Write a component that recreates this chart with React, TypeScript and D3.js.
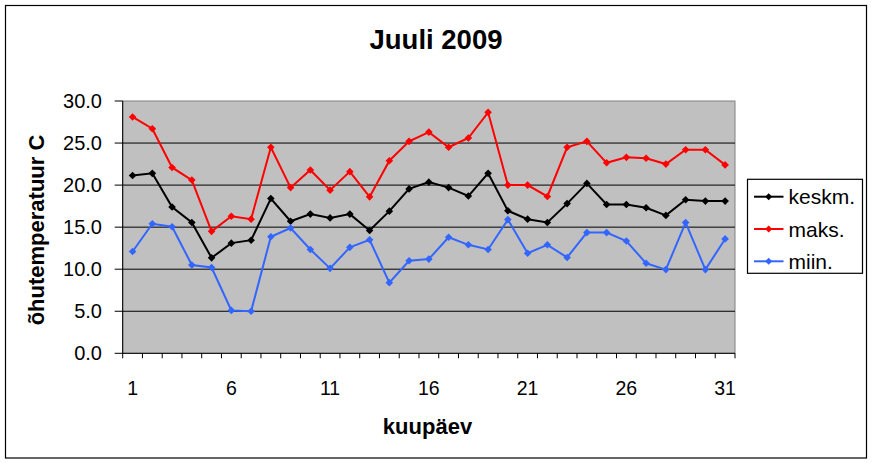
import React from "react";
import * as d3 from "d3";

const days: number[] = Array.from({ length: 31 }, (_, i) => i + 1);
const keskm: number[] = [21.15, 21.4, 17.4, 15.55, 11.35, 13.1, 13.45, 18.4, 15.7, 16.55, 16.1, 16.55, 14.6, 16.9, 19.55, 20.35, 19.7, 18.7, 21.4, 16.95, 15.95, 15.55, 17.8, 20.2, 17.7, 17.7, 17.3, 16.4, 18.25, 18.1, 18.1];
const maks: number[] = [28.1, 26.7, 22.1, 20.6, 14.5, 16.3, 15.95, 24.5, 19.7, 21.8, 19.4, 21.6, 18.6, 22.9, 25.2, 26.3, 24.5, 25.6, 28.65, 20.0, 20.0, 18.65, 24.5, 25.2, 22.65, 23.3, 23.2, 22.5, 24.2, 24.2, 22.4];
const miin: number[] = [12.1, 15.4, 15.05, 10.5, 10.2, 5.1, 5.0, 13.85, 14.9, 12.35, 10.1, 12.6, 13.5, 8.4, 11.0, 11.2, 13.8, 12.9, 12.35, 15.9, 11.9, 12.9, 11.4, 14.35, 14.35, 13.35, 10.7, 9.95, 15.55, 9.95, 13.6];
const yTicks: number[] = [0, 5, 10, 15, 20, 25, 30];
const xLabels: number[] = [1, 6, 11, 16, 21, 26, 31];
const seriesNames: string[] = ["keskm.", "maks.", "miin."];
const seriesColors: string[] = ["#000000", "#FF0000", "#3366FF"];
const seriesData: number[][] = [keskm, maks, miin];

const FONT = "'Liberation Sans', Arial, sans-serif";

export default function App() {
  const W = 874, H = 464;
  const L = 122.7, R = 735, T = 101, B = 353.3;
  const x = d3.scaleBand<number>().domain(days).range([L, R]).paddingInner(0).paddingOuter(0);
  const y = d3.scaleLinear().domain([0, 30]).range([B, T]);
  const cx = (d: number) => (x(d) as number) + x.bandwidth() / 2;
  const line = d3.line<number>().x((_, i) => cx(days[i])).y((v) => y(v));
  const diamond = (px: number, py: number, s: number) =>
    `M${px},${py - s}L${px + s},${py}L${px},${py + s}L${px - s},${py}Z`;
  const boundaries = days.map((d) => x(d) as number).concat([R]);

  const legendX = 747.5, legendY = 179.3, legendW = 115, legendH = 94;
  const itemY = [196.7, 229, 261.3];

  return (
    <svg width={W} height={H} style={{ position: "absolute", left: 0, top: 0, background: "#fff" }} fontFamily={FONT}>
      <rect x={0} y={0} width={W} height={H} fill="#fff" />
      <rect x={5.5} y={5.5} width={861} height={452.5} fill="#fff" stroke="#000" strokeWidth={1.2} />
      <text x={436} y={49} textAnchor="middle" fontSize={27.5} fontWeight="bold">Juuli 2009</text>

      {/* plot area */}
      <rect x={L} y={T} width={R - L} height={B - T} fill="#C0C0C0" stroke="#808080" strokeWidth={1} />
      {yTicks.filter((t) => t > 0 && t < 30).map((t) => (
        <line key={t} x1={L} x2={R} y1={y(t)} y2={y(t)} stroke="#000" strokeWidth={1} />
      ))}
      {/* axes */}
      <line x1={L} x2={L} y1={T} y2={B} stroke="#000" strokeWidth={1} />
      <line x1={L} x2={R} y1={B} y2={B} stroke="#000" strokeWidth={1} />
      {yTicks.map((t) => (
        <g key={t}>
          <line x1={L - 8} x2={L} y1={y(t)} y2={y(t)} stroke="#000" strokeWidth={1} />
          <text x={102} y={y(t) + 7} textAnchor="end" fontSize={20}>{t.toFixed(1)}</text>
        </g>
      ))}
      {boundaries.map((bx, i) => (
        <line key={i} x1={bx} x2={bx} y1={B} y2={B + 5} stroke="#000" strokeWidth={1} />
      ))}
      {xLabels.map((d) => (
        <text key={d} x={cx(d)} y={395} textAnchor="middle" fontSize={19.5}>{d}</text>
      ))}
      <text x={427.5} y={434} textAnchor="middle" fontSize={22} fontWeight="bold">kuupäev</text>
      <text transform="translate(44,230) rotate(-90)" textAnchor="middle" fontSize={22} fontWeight="bold">õhutemperatuur C</text>

      {/* series */}
      {seriesData.map((data, si) => (
        <g key={si}>
          <path d={line(data) || ""} fill="none" stroke={seriesColors[si]} strokeWidth={2} />
          {data.map((v, i) => (
            <path key={i} d={diamond(cx(days[i]), y(v), 3.8)} fill={seriesColors[si]} />
          ))}
        </g>
      ))}

      {/* legend */}
      <rect x={legendX} y={legendY} width={legendW} height={legendH} fill="#fff" stroke="#000" strokeWidth={1.2} />
      {seriesNames.map((n, i) => (
        <g key={n}>
          <line x1={754} x2={783.5} y1={itemY[i]} y2={itemY[i]} stroke={seriesColors[i]} strokeWidth={2} />
          <path d={diamond(768.7, itemY[i], 3.5)} fill={seriesColors[i]} />
          <text x={788.5} y={itemY[i] + 7.5} fontSize={21}>{n}</text>
        </g>
      ))}
    </svg>
  );
}
